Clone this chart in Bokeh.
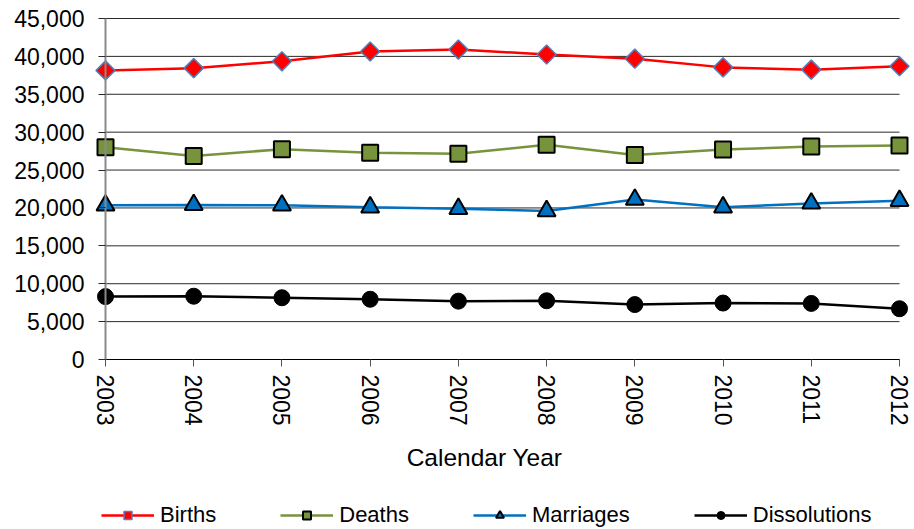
import math
from bokeh.plotting import figure
from bokeh.models import Range1d, FixedTicker, NumeralTickFormatter, Legend, LegendItem, LinearAxis
from bokeh.embed import file_html
from bokeh.resources import INLINE

years = [2003, 2004, 2005, 2006, 2007, 2008, 2009, 2010, 2011, 2012]
births = [38150, 38450, 39350, 40650, 40900, 40250, 39700, 38550, 38250, 38700]
deaths = [28000, 26850, 27750, 27300, 27150, 28350, 27000, 27700, 28100, 28250]
marriages = [20350, 20400, 20350, 20100, 19900, 19600, 21100, 20100, 20600, 20950]
dissolutions = [8300, 8350, 8150, 7950, 7700, 7750, 7250, 7450, 7400, 6700]
y_ticks = [0, 5000, 10000, 15000, 20000, 25000, 30000, 35000, 40000, 45000]
y_max = 45000

FONT = "Liberation Sans"
GRID = "#2a2a2a"
AXIS_GRAY = "#8a8a8a"

# Layout (canvas pixels): the frame covers the whole canvas, axes sit at fixed locations
W, H = 914, 529
PLOT_L, PLOT_R, PLOT_T, PLOT_B = 105, 899, 18, 359
ppx = (PLOT_R - PLOT_L) / (years[-1] - years[0])
ppy = (PLOT_B - PLOT_T) / y_max
x_range = Range1d(years[0] - PLOT_L / ppx, years[-1] + (W - PLOT_R) / ppx)
y_range = Range1d(-(H - PLOT_B) / ppy, y_max + PLOT_T / ppy)
LABEL_SHIFT = 18 / ppx  # axis title sits slightly left of the plot centre

p = figure(width=W, height=H, output_backend="svg", toolbar_location=None,
           x_range=x_range, y_range=y_range,
           min_border_left=0, min_border_right=0, min_border_top=0, min_border_bottom=0)
p.outline_line_color = None
p.background_fill_color = "white"
p.border_fill_color = "white"

p.xgrid.grid_line_color = None
p.ygrid.grid_line_color = None
# horizontal gridlines spanning first to last year
p.segment(x0=[years[0]] * len(y_ticks), x1=[years[-1]] * len(y_ticks),
          y0=y_ticks, y1=y_ticks, line_color=GRID, line_width=1, level="underlay")

xa = p.xaxis[0]
xa.fixed_location = 0
xa.ticker = FixedTicker(ticks=years)
xa.bounds = (years[0], years[-1])
xa.major_label_orientation = "vertical"
xa.major_label_text_font = FONT
xa.major_label_text_font_size = "23px"
xa.major_label_text_color = "black"
xa.major_label_standoff = 8
xa.major_tick_out = 7
xa.major_tick_in = 0
xa.minor_tick_line_color = None
xa.axis_line_color = "black"
xa.major_tick_line_color = "#555555"

# axis title on its own (label-only) axis so it can sit where the reference has it
xt = LinearAxis(fixed_location=0, ticker=FixedTicker(ticks=[]),
                bounds=(years[0] - LABEL_SHIFT, years[-1] - LABEL_SHIFT),
                axis_line_color=None, major_tick_line_color=None, minor_tick_line_color=None,
                major_tick_out=0, major_tick_in=0,
                axis_label="Calendar Year", axis_label_text_font=FONT,
                axis_label_text_font_size="24.5px", axis_label_text_font_style="normal",
                axis_label_text_color="black", axis_label_standoff=84)
p.add_layout(xt, "below")

ya = p.yaxis[0]
ya.fixed_location = years[0]
ya.bounds = (0, y_max)
ya.ticker = FixedTicker(ticks=y_ticks)
ya.formatter = NumeralTickFormatter(format="0,0")
ya.major_label_text_font = FONT
ya.major_label_text_font_size = "23px"
ya.major_label_text_color = "black"
ya.major_label_standoff = 14
ya.major_tick_out = 7
ya.major_tick_in = 0
ya.minor_tick_line_color = None
ya.axis_line_color = AXIS_GRAY
ya.axis_line_width = 2
ya.major_tick_line_color = GRID

lw = 2.5
l1 = p.line(years, births, line_color="#ff0000", line_width=lw)
m1 = p.scatter(years, births, marker="square", size=13.5, angle=math.pi / 4,
               fill_color="#ff0000", line_color="#4f81bd", line_width=1.5)
l2 = p.line(years, deaths, line_color="#77933c", line_width=lw)
m2 = p.scatter(years, deaths, marker="square", size=16,
               fill_color="#77933c", line_color="black", line_width=2)
l3 = p.line(years, marriages, line_color="#0070c0", line_width=lw)
m3 = p.scatter(years, marriages, marker="triangle", size=18,
               fill_color="#0070c0", line_color="black", line_width=2)
l4 = p.line(years, dissolutions, line_color="black", line_width=lw)
m4 = p.scatter(years, dissolutions, marker="circle", size=16,
               fill_color="black", line_color="black", line_width=1)

legend = Legend(items=[
    LegendItem(label="Births", renderers=[l1, m1]),
    LegendItem(label="Deaths", renderers=[l2, m2]),
    LegendItem(label="Marriages", renderers=[l3, m3]),
    LegendItem(label="Dissolutions", renderers=[l4, m4]),
], orientation="horizontal", location=(101, 1), padding=0, margin=0,
   border_line_color=None, background_fill_alpha=0,
   label_text_font=FONT, label_text_font_size="22px", label_text_color="black",
   glyph_width=53, glyph_height=20, label_standoff=6, spacing=64)
p.add_layout(legend, "center")

open("out.html", "w").write(file_html(p, INLINE))
